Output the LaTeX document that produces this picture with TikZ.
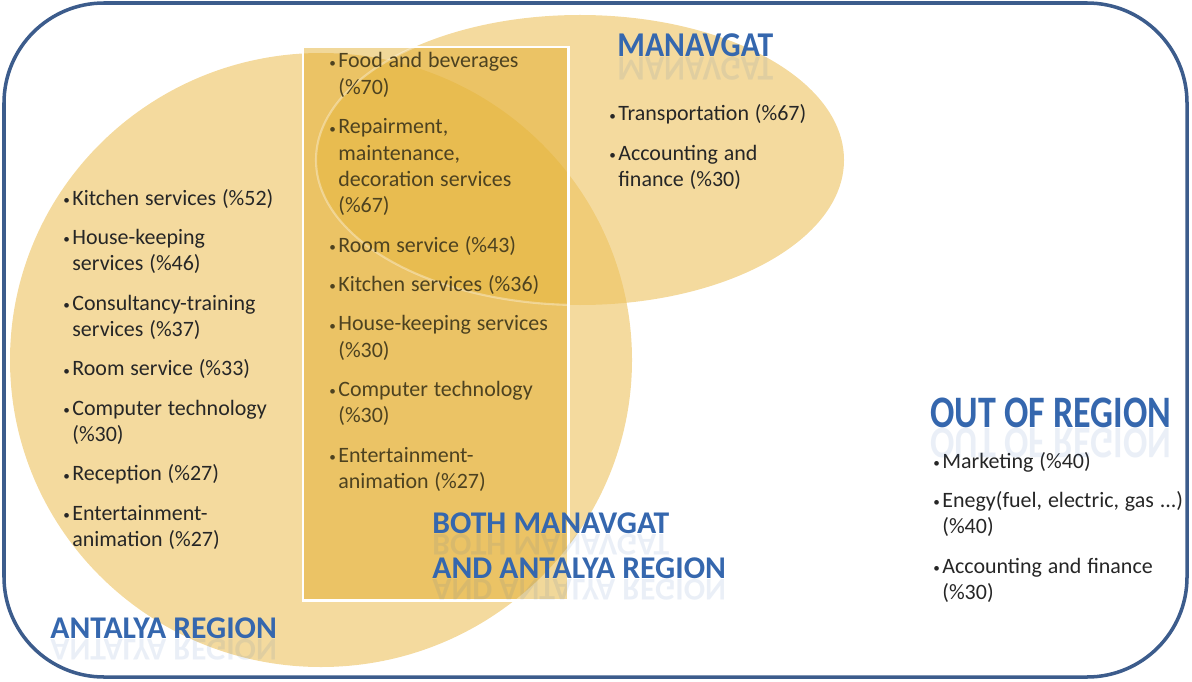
\documentclass[tikz,border=0pt]{standalone}
\usepackage{fontspec}
\setmainfont{Carlito}
\usepackage{graphicx}
\usetikzlibrary{positioning}

\definecolor{frameblue}{HTML}{3C5C8C}
\definecolor{regiongold}{HTML}{EDC25E}
\definecolor{bothgold}{HTML}{E0A820}
\definecolor{headblue}{HTML}{3567AE}
\definecolor{itemtext}{HTML}{262626}
\definecolor{boxtext}{HTML}{4D4220}

\newcommand{\listsetup}{\fontsize{12.5}{15}\selectfont\parskip=7.4pt\relax}
\newcommand{\itm}[1]{\hangindent=5.7pt\hangafter=1\makebox[5.7pt][l]{\hspace{0.6pt}\raisebox{0.4pt}{\scalebox{0.6}{\textbullet}}}#1\par}

\begin{document}
\begin{tikzpicture}[
    x=0.02cm, y=-0.02cm,
    region/.style={fill=regiongold, fill opacity=0.6},
    itemlist/.style={anchor=base west, inner sep=0pt, align=left, text=itemtext},
    head/.style={anchor=west, inner sep=0pt, text=headblue, font=\bfseries\fontsize{18}{20}\selectfont},
    refl/.style={head, text opacity=0.1},
  ]
  \useasboundingbox (0,0) rectangle (1192,682);

  % regions
  \fill[region] (321,360) ellipse [x radius=311, y radius=307];
  \fill[region] (580,160) ellipse [x radius=264, y radius=145];
  \fill[bothgold, fill opacity=0.45] (303,47) rectangle (568,600);
  \begin{scope}
    \clip (303,47) rectangle (568,600);
    \draw[white, opacity=0.35, line width=1.2pt] (580,160) ellipse [x radius=264, y radius=145];
  \end{scope}
  \draw[white, line width=1.7pt] (303,47) rectangle (568,600);
  \draw[frameblue, line width=2pt, rounded corners=2cm] (4,3) rectangle (1187,677);

  % lists
  \node[itemlist, text width=4.6cm] (antalyaList) at (62,205) {\listsetup
    \itm{Kitchen services (\%52)}
    \itm{House-keeping\newline services (\%46)}
    \itm{Consultancy-training\newline services (\%37)}
    \itm{Room service (\%33)}
    \itm{Computer technology\newline (\%30)}
    \itm{Reception (\%27)}
    \itm{Entertainment-\newline animation (\%27)}};

  \node[itemlist, text=boxtext, text width=4.7cm] (bothList) at (328,68) {\listsetup
    \itm{Food and beverages\newline (\%70)}
    \itm{Repairment,\newline maintenance,\newline decoration services\newline (\%67)}
    \itm{Room service (\%43)}
    \itm{Kitchen services (\%36)}
    \itm{House-keeping services\newline (\%30)}
    \itm{Computer technology\newline (\%30)}
    \itm{Entertainment-\newline animation (\%27)}};

  \node[itemlist, text width=4.2cm] (manavgatList) at (608,121) {\listsetup
    \itm{Transportation (\%67)}
    \itm{Accounting and\newline finance (\%30)}};

  \node[itemlist, text width=5.1cm] (outList) at (932,468) {\listsetup
    \itm{Marketing (\%40)}
    \itm{Enegy(fuel, electric, gas ...)\newline (\%40)}
    \itm{Accounting and finance\newline (\%30)}};

  % headings
  \node[head] (manavgatHead) at (617,45) {\scalebox{1}[1.1]{MANAVGAT}};
  \node[refl, below=0pt of manavgatHead] (manavgatRefl) {\scalebox{1}[-1.1]{MANAVGAT}};

  \node[head, font=\bfseries\fontsize{20.5}{22}\selectfont] (outHead) at (930,413) {\scalebox{1}[1.25]{OUT OF REGION}};
  \node[refl, font=\bfseries\fontsize{20.5}{22}\selectfont, below=0pt of outHead] (outRefl) {\scalebox{1}[-1.25]{OUT OF REGION}};

  \node[head] (bothHeadA) at (432,523) {BOTH MANAVGAT};
  \node[refl, below=0pt of bothHeadA] (bothReflA) {\scalebox{1}[-1]{BOTH MANAVGAT}};
  \node[head] (bothHeadB) at (432,568) {AND ANTALYA REGION};
  \node[refl, below=0pt of bothHeadB] (bothReflB) {\scalebox{1}[-1]{AND ANTALYA REGION}};

  \node[head] (antalyaHead) at (50,628) {ANTALYA REGION};
  \node[refl, below=0pt of antalyaHead] (antalyaRefl) {\scalebox{1}[-1]{ANTALYA REGION}};
\end{tikzpicture}
\end{document}
